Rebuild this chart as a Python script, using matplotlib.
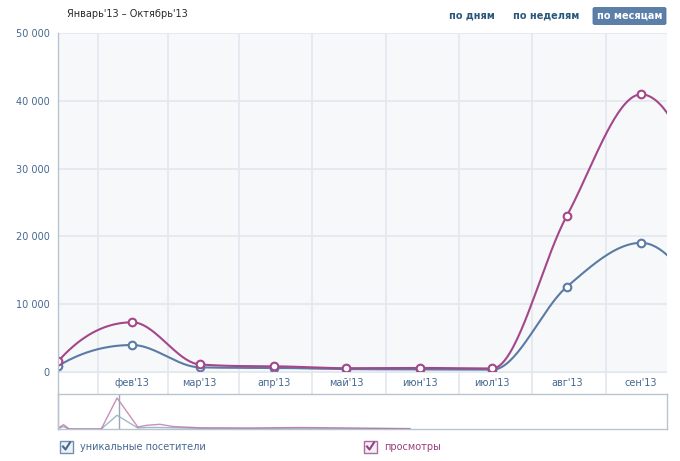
import matplotlib
matplotlib.use('Agg')
import matplotlib.pyplot as plt
import numpy as np
from matplotlib.lines import Line2D
from matplotlib.patches import Rectangle, FancyBboxPatch

plt.rcParams['font.family'] = ['DejaVu Sans']

# monthly data, Jan..Oct 2013 (points on the 1st of each month)
months = np.arange('2013-01', '2013-11', dtype='datetime64[M]')
month_labels = ["янв'13", "фев'13", "мар'13", "апр'13", "май'13", "июн'13",
                "июл'13", "авг'13", "сен'13", "окт'13"]
visitors = [880, 3980, 690, 600, 430, 380, 330, 12550, 19050, 7100]
views = [1550, 7330, 1120, 840, 560, 600, 520, 23000, 40950, 21000]

# navigator (overview) series, rough time index 0..100
nav_t = [0, 0.9, 1.8, 7.1, 9.7, 13.1, 14.6, 16.7, 18.9, 23.3, 31.5, 39.7, 47.9, 57.8]
nav_views = [0.7, 4.4, 0, 0, 31, 2, 3.7, 4.7, 2.5, 1.2, 1.0, 1.5, 1.0, 0.4]
nav_visitors = [0.4, 2.5, 0, 0, 13.7, 1, 1.5, 1.5, 1.2, 0.6, 0.5, 0.7, 0.5, 0.2]
nav_handle = 10.0

title = "Январь'13 – Октябрь'13"
buttons = ['по дням', 'по неделям', 'по месяцам']
legend_labels = ['уникальные посетители', 'просмотры']

BLUE = '#5a7ba4'
PURPLE = '#a4478a'
LABEL = '#45688e'
GRID = '#e3e8ef'
BORDER = '#b9c4d1'

W, H = 680, 461


def fx(px):
    return px / W


def fy(py):
    return 1 - py / H


def end_slope(h0, h1, d0, d1):
    m = ((2 * h0 + h1) * d0 - h0 * d1) / (h0 + h1)
    if np.sign(m) != np.sign(d0):
        return 0.0
    if np.sign(d0) != np.sign(d1) and abs(m) > abs(3 * d0):
        return 3 * d0
    return m


def smooth(xs, ys, steps=40):
    # cubic curve through the points, catmull-rom tangents, flat at extremes
    xs = np.asarray(xs, float)
    ys = np.asarray(ys, float)
    n = len(xs)
    h = np.diff(xs)
    d = np.diff(ys) / h
    m = np.zeros(n)
    for k in range(1, n - 1):
        if d[k - 1] * d[k] > 0:
            m[k] = (ys[k + 1] - ys[k - 1]) / (xs[k + 1] - xs[k - 1])
    m[0] = end_slope(h[0], h[1], d[0], d[1])
    m[-1] = end_slope(h[-1], h[-2], d[-1], d[-2])
    # keep the curve from overshooting
    for k in range(n - 1):
        if d[k] == 0:
            m[k] = m[k + 1] = 0
            continue
        a, b = m[k] / d[k], m[k + 1] / d[k]
        r = a * a + b * b
        if r > 9:
            s = 3 / np.sqrt(r)
            m[k], m[k + 1] = s * a * d[k], s * b * d[k]
    t = np.linspace(0, 1, steps)
    h00 = 2 * t**3 - 3 * t**2 + 1
    h10 = t**3 - 2 * t**2 + t
    h01 = -2 * t**3 + 3 * t**2
    h11 = t**3 - t**2
    ox, oy = [], []
    for i in range(n - 1):
        ox.append(xs[i] + t * h[i])
        oy.append(h00 * ys[i] + h10 * h[i] * m[i] + h01 * ys[i + 1] + h11 * h[i] * m[i + 1])
    return np.concatenate(ox), np.concatenate(oy)


days = (months.astype('datetime64[D]') - months[0].astype('datetime64[D]')).astype(int)
month_len = np.diff(np.append(days, days[-1] + 31))
grid_days = (days + month_len / 2.0 + 1)[:-2]
x_max = 253.8

fig = plt.figure(figsize=(W / 100, H / 100), dpi=100)

# main plot area
ax = fig.add_axes([fx(58), fy(372), fx(609), (372 - 33) / H])
ax.set_facecolor('#f7f8fa')
ax.set_xlim(0, x_max)
ax.set_ylim(0, 50000)
for s in ax.spines.values():
    s.set_visible(False)
ax.set_xticks([])
ax.set_yticks(np.arange(0, 50001, 10000))
ax.set_yticklabels(['{:,}'.format(v).replace(',', ' ') for v in range(0, 50001, 10000)])
ax.tick_params(axis='y', length=0, pad=6, labelsize=7, labelcolor=LABEL)
for v in range(0, 50001, 10000):
    ax.axhline(v, color=GRID, lw=1.2, zorder=1)
for g in grid_days:
    ax.axvline(g, color=GRID, lw=1.2, zorder=1)

for vals, col in [(visitors, BLUE), (views, PURPLE)]:
    sx, sy = smooth(days, vals)
    ax.plot(sx, sy, color=col, lw=1.5, zorder=3, solid_capstyle='round')
    ax.plot(days, vals, 'o', ms=5.5, mfc='white', mec=col, mew=1.5, zorder=4)

# month label band
band = fig.add_axes([fx(58), fy(394), fx(609), 22 / H])
band.set_xlim(0, x_max)
band.set_ylim(0, 1)
band.set_facecolor('white')
for s in band.spines.values():
    s.set_visible(False)
band.set_xticks([])
band.set_yticks([])
for g in grid_days:
    band.axvline(g, color=GRID, lw=1.2)
band.axhline(1, color=GRID, lw=1.5)
for d, lab in zip(days[1:], month_labels[1:]):
    if d < x_max - 5:
        band.text(d, 0.5, lab, ha='center', va='center', fontsize=7, color=LABEL)

# navigator
nav = fig.add_axes([fx(58), fy(429), fx(609), 35 / H])
nav.set_xlim(0, 100)
nav.set_ylim(0, 35)
nav.set_facecolor('white')
for s in nav.spines.values():
    s.set_color(BORDER)
    s.set_linewidth(1)
nav.set_xticks([])
nav.set_yticks([])
nav.plot(nav_t, nav_visitors, color=BLUE, lw=1, alpha=0.55)
nav.plot(nav_t, nav_views, color=PURPLE, lw=1, alpha=0.6)
nav.axvline(nav_handle, color='#9ba7b6', lw=1)

# left axis line running through everything
fig.add_artist(Line2D([fx(58), fx(58)], [fy(33), fy(429)], color=BORDER, lw=1))

# title and period buttons
fig.text(fx(67), fy(14), title, fontsize=7, color='#2a2a2a', va='center', ha='left')
fig.text(fx(472), fy(16), buttons[0], fontsize=7, weight='bold', color='#2b587a', ha='center', va='center')
fig.text(fx(546), fy(16), buttons[1], fontsize=7, weight='bold', color='#2b587a', ha='center', va='center')
fig.add_artist(FancyBboxPatch((fx(593), fy(24.5)), fx(73), 17 / H,
                              boxstyle='round,pad=0,rounding_size=0.003',
                              transform=fig.transFigure, fc='#5b7fa8', ec='#52749c', lw=0.6))
fig.text(fx(629.5), fy(16), buttons[2], fontsize=7, weight='bold', color='white', ha='center', va='center')

# legend with checkboxes
for (bx, lab, col, tcol) in [(60, legend_labels[0], '#6f8fb3', LABEL),
                             (364, legend_labels[1], '#b06a9c', '#9a3f80')]:
    fig.add_artist(Rectangle((fx(bx), fy(453)), fx(12.5), 12.5 / H, transform=fig.transFigure,
                             fc='#eef2f6', ec=col, lw=1.0))
    fig.add_artist(Line2D([fx(bx + 3), fx(bx + 5.5), fx(bx + 10)],
                          [fy(446.5), fy(449.5), fy(442.5)], color=tcol, lw=1.5))
    fig.text(fx(bx + 20), fy(447), lab, fontsize=7, color=tcol, va='center', ha='left')

fig.savefig('out.png', dpi=100)
plt.close(fig)
